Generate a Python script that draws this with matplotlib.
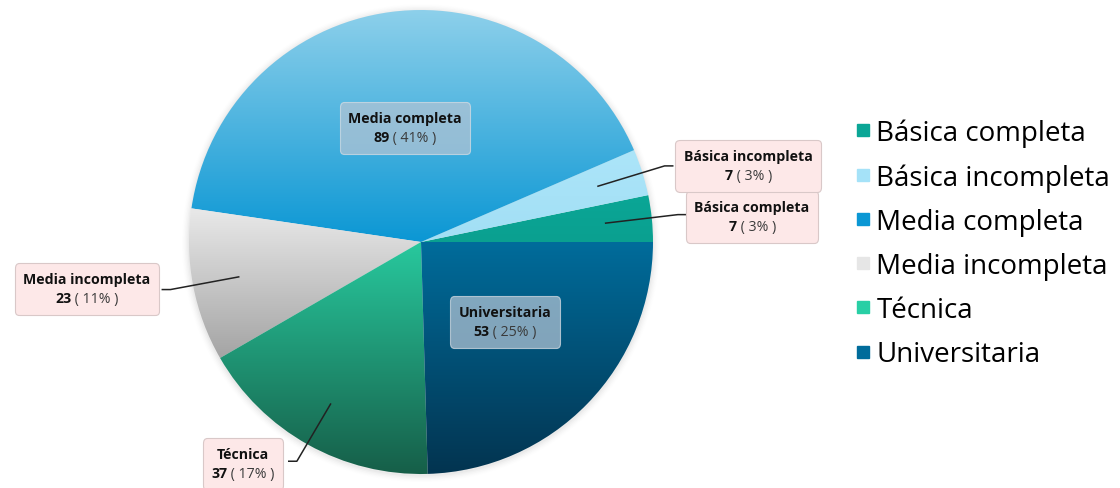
import numpy as np
import matplotlib
matplotlib.use("Agg")
import matplotlib.pyplot as plt
from matplotlib.colors import LinearSegmentedColormap
from matplotlib.offsetbox import TextArea, VPacker, HPacker, AnnotationBbox
from matplotlib.lines import Line2D

plt.rcParams['font.family'] = ['Open Sans', 'DejaVu Sans']

# ---------- Data ----------
categories = ["Básica completa", "Básica incompleta", "Media completa",
              "Media incompleta", "Técnica", "Universitaria"]
counts = [7, 7, 89, 23, 37, 53]
percents = [3, 3, 41, 11, 17, 25]

# gradient (top, bottom) per slice and flat legend colour
top_colors = ["#0ba696", "#ace5f9", "#90d1eb", "#e9e9e9", "#28c99e", "#006c9b"]
bottom_colors = ["#0aa090", "#a2dff5", "#0b97d4", "#a4a4a4", "#165e48", "#033450"]
legend_colors = ["#0ba696", "#a5e2f8", "#0b97d4", "#e6e6e6", "#28cfa5", "#006c9b"]

# label box placement (data units, radius = 1) and leader elbow points
label_pos = [(1.427, 0.108), (1.41, 0.328), (-0.069, 0.491), (-1.44, -0.203), (-0.767, -0.957), (0.362, -0.345)]
elbows = [(1.107, 0.118), (1.05, 0.328), None, (-1.08, -0.205), (-0.535, -0.945), None]
inside = [False, False, True, False, False, True]

fig = plt.figure(figsize=(11.2, 4.89), dpi=100)
ax = fig.add_axes([0, 0, 1, 1])
R = 232.0
cx, cy = 421.0, 246.0

# soft shadow ring
for i, a in enumerate(np.linspace(0.05, 0.01, 5)):
    ax.add_patch(plt.Circle((0.0, -0.005), 1.0 + 0.006 * (i + 1), color="#888888",
                            alpha=a, lw=0, zorder=0))

wedges, _ = ax.pie(counts, startangle=0, counterclock=True, radius=1.0,
                   center=(0, 0), frame=True,
                   wedgeprops=dict(linewidth=0, edgecolor="none"))
ax.set_xlim(-cx / R, (1120 - cx) / R)
ax.set_ylim(-cy / R, (489 - cy) / R)
ax.set_aspect("equal")
ax.axis("off")

grad = np.linspace(0, 1, 256).reshape(-1, 1)
for w, c0, c1 in zip(wedges, top_colors, bottom_colors):
    w.set_facecolor("none")
    verts = w.get_path().vertices
    y0, y1 = verts[:, 1].min(), verts[:, 1].max()
    x0, x1 = verts[:, 0].min(), verts[:, 0].max()
    cmap = LinearSegmentedColormap.from_list("g", [c0, c1])
    im = ax.imshow(grad, cmap=cmap, extent=(x0, x1, y0, y1), origin="upper",
                   aspect="auto", zorder=1, interpolation="bilinear")
    im.set_clip_path(w)

# ---------- Labels ----------
theta = np.cumsum([0] + counts) / sum(counts) * 2 * np.pi
for i, name in enumerate(categories):
    name_ta = TextArea(name, textprops=dict(fontsize=10.2, fontweight="bold", color="#111111"))
    num_ta = TextArea(str(counts[i]), textprops=dict(fontsize=10.2, fontweight="bold", color="#111111"))
    pct_ta = TextArea(" ( %d%% )" % percents[i], textprops=dict(fontsize=10.2, color="#3a3a3a"))
    row = HPacker(children=[num_ta, pct_ta], align="baseline", pad=0, sep=0)
    box = VPacker(children=[name_ta, row], align="center", pad=0, sep=4)
    if inside[i]:
        bprops = dict(boxstyle="round,pad=0.6,rounding_size=0.3", fc="#b4c4d4",
                      ec="#d8dde4", alpha=0.72, lw=0.8)
    else:
        bprops = dict(boxstyle="round,pad=0.6,rounding_size=0.3", fc="#fde8e8",
                      ec="#d9c8c8", lw=0.8)
    ab = AnnotationBbox(box, label_pos[i], xycoords="data", frameon=True,
                        bboxprops=bprops, pad=0.5, zorder=4,
                        annotation_clip=False)
    ax.add_artist(ab)

    if elbows[i] is not None:
        mid = (theta[i] + theta[i + 1]) / 2
        ax_pt = (0.8 * np.cos(mid), 0.8 * np.sin(mid))
        ex, ey = elbows[i]
        stub = 0.035 if ex > 0 else -0.035
        ax.add_line(Line2D([ax_pt[0], ex, ex + stub], [ax_pt[1], ey, ey],
                           color="#222222", lw=1.1, zorder=3))

# ---------- Legend ----------
handles = [Line2D([], [], marker="s", linestyle="none", markersize=9,
                  markerfacecolor=c, markeredgecolor=c) for c in legend_colors]
fig.legend(handles, categories, loc="upper left", bbox_to_anchor=(0.754, 0.778),
           frameon=False, fontsize=20, handlelength=0.55, handletextpad=0.2,
           labelspacing=0.58, borderaxespad=0)

fig.savefig("out.png", dpi=100)
